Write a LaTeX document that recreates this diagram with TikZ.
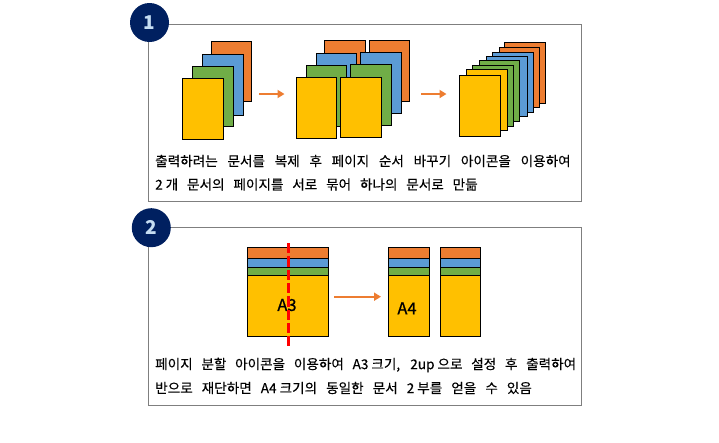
\documentclass[tikz,border=0pt]{standalone}
\usepackage{fontspec}
\setmainfont{Noto Sans CJK KR}
\newfontfamily\capfont[FakeBold=0.25]{Noto Sans CJK KR}
\newfontfamily\lblfont[FakeBold=0.8]{Noto Sans CJK KR}
\usetikzlibrary{arrows.meta}
\definecolor{cOr}{HTML}{ED7D31}
\definecolor{cBl}{HTML}{5B9BD5}
\definecolor{cGr}{HTML}{70AD47}
\definecolor{cYe}{HTML}{FFC000}
\definecolor{cNavy}{HTML}{002060}
\definecolor{cFrame}{HTML}{7F7F7F}
\definecolor{cDigit}{HTML}{C5DDF2}
\tikzset{
  frame/.style={draw=cFrame,line width=1pt,inner sep=0pt,outer sep=0pt,anchor=north west},
  sheet/.style={draw=black,line width=1.2pt,inner sep=0pt,outer sep=0pt,anchor=north west},
  badge/.style={circle,fill=cNavy,inner sep=0pt,minimum size=39pt,text=cDigit,font=\fontsize{19}{19}\selectfont\bfseries},
  flow/.style={draw=cOr,line width=2pt,-{Triangle[length=7pt,width=8pt]}},
  cut/.style={draw=red,line width=3pt,dash pattern=on 10.3pt off 3pt},
  caption/.style={inner sep=0pt,anchor=west,font=\capfont\fontsize{13.6}{15}\selectfont},
  size/.style={inner sep=0pt,font=\lblfont\fontsize{16.5}{16}\selectfont}
}
\newcommand{\pg}[6]{\node[sheet,fill=#2,minimum width=#5pt,minimum height=#6pt] (#1) at (#3,#4) {};}
\begin{document}
\begin{tikzpicture}[x=1pt,y=-1pt]
\useasboundingbox (0,0) rectangle (719,442);
\fill[white] (0,0) rectangle (719,442);
% panel 1
\node[frame,minimum width=432.5pt,minimum height=176.5pt] (panelA) at (148.5,24.5) {};
\node[badge] (badgeA) at (149.5,22.5) {1};
\pg{a1}{cOr}{211.3}{41.3}{40.4}{60}
\pg{a2}{cBl}{202.3}{54.3}{41.4}{61.4}
\pg{a3}{cGr}{192.3}{66.3}{41.4}{60.4}
\pg{a4}{cYe}{182.3}{78.3}{41.4}{61}
\pg{b1}{cOr}{324.3}{40.3}{41.4}{61}
\pg{b5}{cOr}{369.3}{40.3}{40.4}{61}
\pg{b2}{cBl}{316.3}{53.3}{40.4}{61}
\pg{b6}{cBl}{360.3}{52.3}{41.4}{61}
\pg{b3}{cGr}{306.3}{65.3}{40.4}{61.4}
\pg{b7}{cGr}{350.3}{64.3}{41.4}{61}
\pg{b4}{cYe}{296.3}{77.3}{40.4}{61}
\pg{b8}{cYe}{340.3}{77.3}{41.4}{60}
\pg{c1}{cOr}{504.3}{42.3}{41.4}{61}
\pg{c2}{cOr}{499.3}{47.3}{40.4}{60.4}
\pg{c3}{cBl}{492.3}{52.3}{41.4}{60}
\pg{c4}{cBl}{486.3}{56.3}{41.4}{60.4}
\pg{c5}{cGr}{479.3}{60.3}{40.4}{61}
\pg{c6}{cGr}{472.3}{65.3}{41.4}{61.4}
\pg{c7}{cYe}{466.3}{69.3}{41.4}{61.4}
\pg{c8}{cYe}{459.3}{75.3}{41.4}{61.4}
\coordinate (f1s) at (259,94);
\coordinate (f1e) at (284.5,94);
\coordinate (f2s) at (421,94);
\coordinate (f2e) at (446.5,94);
\draw[flow] (f1s) -- (f1e);
\draw[flow] (f2s) -- (f2e);
\node[caption] (t1) at (155,161) {\makebox[415.5pt][s]{출력하려는 문서를 복제 후 페이지 순서 바꾸기 아이콘을 이용하여}};
\node[caption] (t2) at (155,184.5) {\makebox[322.5pt][s]{2\kern3pt 개 문서의 페이지를 서로 묶어 하나의 문서로 만듦}};
% panel 2
\node[frame,minimum width=432.5pt,minimum height=177.6pt] (panelB) at (148.5,227.7) {};
\node[badge] (badgeB) at (151.3,227.7) {2};
\pg{d1}{cOr}{247.3}{247.3}{81.4}{11}
\pg{d2}{cBl}{247.3}{258.3}{81.4}{9}
\pg{d3}{cGr}{247.3}{267.3}{81.4}{8}
\pg{d4}{cYe}{247.3}{275.3}{81.4}{61}
\node[size] (lblA3) at (287,305) {A3};
\coordinate (cutT) at (288.3,243);
\coordinate (cutB) at (288.3,346);
\draw[cut] (cutT) -- (cutB);
\coordinate (f3s) at (334,296.7);
\coordinate (f3e) at (381,296.7);
\draw[flow] (f3s) -- (f3e);
\pg{e1}{cOr}{388.3}{247.3}{41.4}{11}
\pg{e2}{cBl}{388.3}{258.3}{41.4}{9}
\pg{e3}{cGr}{388.3}{267.3}{41.4}{8}
\pg{e4}{cYe}{388.3}{275.3}{41.4}{61}
\pg{g1}{cOr}{440.3}{247.3}{40.4}{11}
\pg{g2}{cBl}{440.3}{258.3}{40.4}{9}
\pg{g3}{cGr}{440.3}{267.3}{40.4}{8}
\pg{g4}{cYe}{440.3}{275.3}{40.4}{61}
\node[size] (lblA4) at (407,308.3) {A4};
\node[caption] (t3) at (155,365) {\makebox[421pt][s]{페이지 분할 아이콘을 이용하여 A3\kern3pt 크기, 2up\kern3pt 으로 설정 후 출력하여}};
\node[caption] (t4) at (155,388) {\makebox[376.7pt][s]{반으로 재단하면 A4\kern3pt 크기의 동일한 문서 2\kern3pt 부를 얻을 수 있음}};
\end{tikzpicture}
\end{document}
